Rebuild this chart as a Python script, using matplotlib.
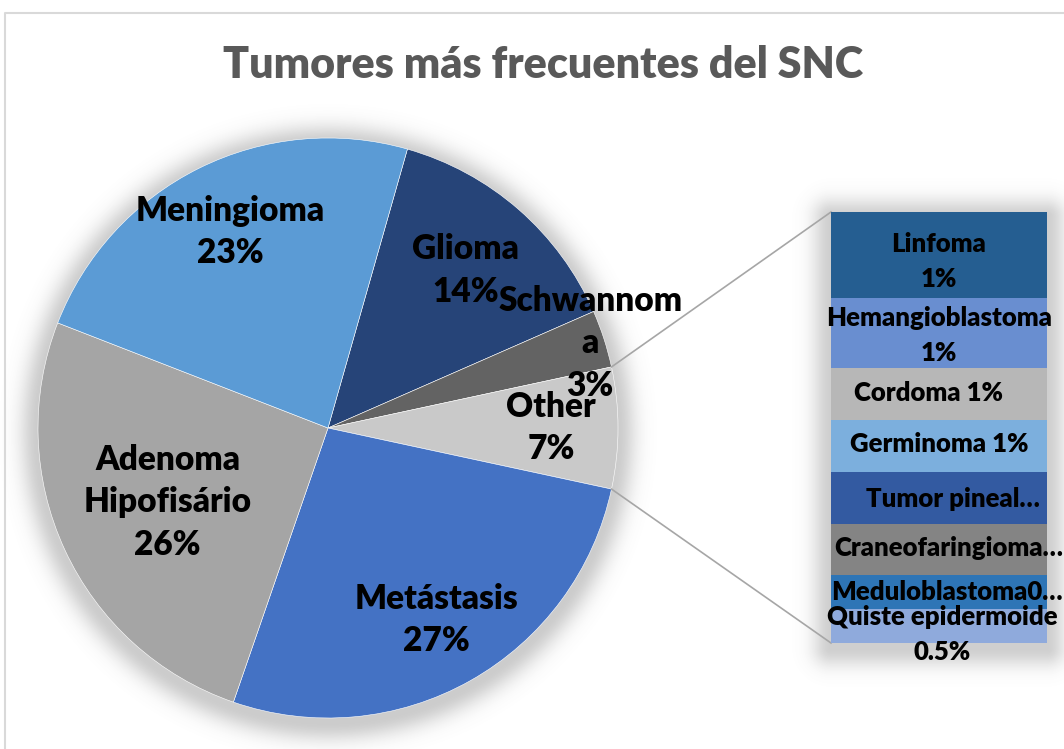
import matplotlib
matplotlib.use("Agg")
import matplotlib.pyplot as plt
import numpy as np

plt.rcParams['font.family'] = ['Lato', 'DejaVu Sans']

W, H = 1064, 749

# main pie, clockwise from the top right
main_labels = ['Glioma', 'Schwannoma', 'Other', 'Metástasis', 'Adenoma Hipofisário', 'Meningioma']
main_texts = ['Glioma\n14%', 'Schwannom\na\n3%', 'Other\n7%', 'Metástasis\n27%',
              'Adenoma\nHipofisário\n26%', 'Meningioma\n23%']
main_colors = ['#264478', '#636363', '#C9C9C9', '#4472C4', '#A5A5A5', '#5B9BD5']

# the "Other" slice broken out into the bar
sub_labels = ['Linfoma', 'Hemangioblastoma', 'Cordoma', 'Germinoma', 'Tumor pineal',
              'Craneofaringioma', 'Meduloblastoma', 'Quiste epidermoide']
sub_values = [1.35, 1.10, 0.81, 0.81, 0.81, 0.81, 0.53, 0.53]
sub_texts = ['Linfoma\n1%', 'Hemangioblastoma\n1%', 'Cordoma 1%', 'Germinoma 1%',
             'Tumor pineal…', 'Craneofaringioma…', 'Meduloblastoma0…', 'Quiste epidermoide\n0.5%']
sub_colors = ['#255E91', '#698ED0', '#B7B7B7', '#7CAFDD', '#335AA1', '#848484', '#2E75B6', '#8FAADC']

main_values = [14.0, 3.2, sum(sub_values), 26.9, 25.6, 23.5]

# layout (pixels, y measured from the top)
cx, cy, R = 328, 428, 290
bar_left, bar_w, bar_top, bar_bot = 831, 216, 212, 643
label_r = [0.72, 0.95, 0.77, 0.76, 0.61, 0.755]
sub_dy = [6, 2, -1, -2, 1, -1, 0, 8]   # small nudges (px, downwards)
sub_dx = [0, 0, -10, 0, 14, 10, 8, 3]  # small nudges (px, right)

fig = plt.figure(figsize=(W / 100, H / 100), dpi=100)
ax = fig.add_axes([0, 0, 1, 1])

# soft shadows behind pie and bar
yy, xx = np.mgrid[0:H, 0:W] + 0.5
d_pie = np.sqrt((xx - cx) ** 2 + (yy - cy - 5) ** 2) - R
dx = np.maximum(np.maximum(bar_left - xx, xx - (bar_left + bar_w)), 0)
dy = np.maximum(np.maximum(bar_top + 5 - yy, yy - (bar_bot + 5)), 0)
d_bar = np.sqrt(dx ** 2 + dy ** 2)
s = 13.0
a = np.maximum(0.36 * np.exp(-np.maximum(d_pie, 0) ** 2 / (2 * s ** 2)),
               0.34 * np.exp(-d_bar ** 2 / (2 * s ** 2)))
shadow = np.zeros((H, W, 4))
shadow[..., :3] = 0.45
shadow[..., 3] = a
ax.imshow(shadow, extent=(0, W, 0, H), origin='upper', zorder=0, interpolation='bilinear')

total = sum(main_values)
# Other slice centred on 3 o'clock, slices go clockwise
start = (main_values[0] + main_values[1] + main_values[2] / 2) / total * 360
wedges, _ = ax.pie(main_values, colors=main_colors, startangle=start, counterclock=False,
                   center=(cx, H - cy), radius=R, frame=True,
                   wedgeprops=dict(edgecolor='white', linewidth=0.4))
for w in wedges:
    w.set_zorder(2)

for w, txt, rf in zip(wedges, main_texts, label_r):
    mid = np.deg2rad((w.theta1 + w.theta2) / 2)
    ax.text(cx + rf * R * np.cos(mid), H - cy + rf * R * np.sin(mid), txt,
            ha='center', va='center', fontsize=24, fontweight='heavy', color='black',
            linespacing=1.4, zorder=5)

# connector lines from the Other slice to the bar
ow = wedges[2]
for ang, by in [(ow.theta2, bar_top), (ow.theta1, bar_bot)]:
    t = np.deg2rad(ang)
    ax.plot([cx + R * np.cos(t), bar_left], [H - cy + R * np.sin(t), H - by],
            color='#A6A6A6', lw=1.2, zorder=3)

# chart frame
ax.plot([5, 5, W], [0, H - 13, H - 13], color='#D9D9D9', lw=1.5, zorder=1)

ax.set_xlim(0, W)
ax.set_ylim(0, H)
ax.set_aspect('auto')
ax.axis('off')

fig.text(543 / W, 1 - 65 / H, 'Tumores más frecuentes del SNC', ha='center', va='center',
         fontsize=31, fontweight='heavy', color='#595959')

# stacked bar
bx = fig.add_axes([bar_left / W, (H - bar_bot) / H, bar_w / W, (bar_bot - bar_top) / H])
sub_total = sum(sub_values)
bottoms = sub_total - np.cumsum(sub_values)
bx.bar(0, sub_values, bottom=bottoms, width=1, color=sub_colors)
px = sub_total / (bar_bot - bar_top)
for v, b, txt, ny, nx in zip(sub_values, bottoms, sub_texts, sub_dy, sub_dx):
    bx.text(nx / bar_w, b + v / 2 - ny * px, txt, ha='center', va='center', fontsize=18.5,
            fontweight='heavy', color='black', linespacing=1.55, clip_on=False)
bx.set_xlim(-0.5, 0.5)
bx.set_ylim(0, sub_total)
bx.axis('off')

fig.savefig('out.png', dpi=100)
